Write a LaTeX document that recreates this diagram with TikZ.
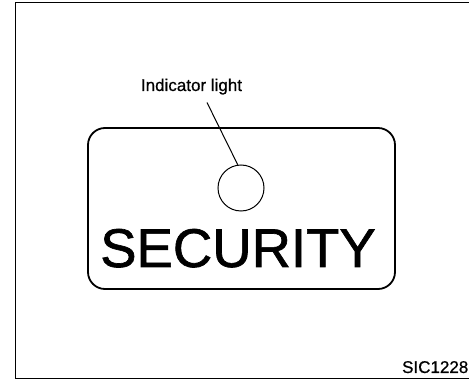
\documentclass[tikz,border=0pt]{standalone}
\usepackage{fontspec}
\setmainfont{Liberation Sans}
\newfontfamily\heavyfont[FakeBold=1.2]{Liberation Sans}
\newfontfamily\labelfont[FakeBold=0.6]{Liberation Sans}
\usepackage{tikz}
\usetikzlibrary{positioning}

\begin{document}
\begin{tikzpicture}[
            x=1pt, y=-1pt,
            frameline/.style={line width=1.5pt},
            badgeline/.style={line width=1.8pt, rounded corners=17pt},
            leader/.style={line width=1pt},
            lamp/.style={circle, draw, line width=1pt, minimum size=46pt, inner sep=0pt},
            caption/.style={inner sep=0pt, font=\labelfont\fontsize{17}{17}\selectfont}
        ]

            \useasboundingbox (0,0) rectangle (469,379);

            % Outer frame (open on the right)
            \draw[frameline] (470,2.5) -- (15.5,2.5) -- (15.5,378.5) -- (470,378.5);

            % Badge
            \draw[badgeline] (88,128) rectangle (395,289);
            \node[inner sep=0pt, anchor=base, font=\heavyfont\fontsize{54.5}{54.5}\selectfont] (word) at (238,267) {SECURITY};

            % Indicator light and its label
            \node[lamp] (light) at (241,188) {};
            \node[caption, anchor=base] (label) at (191.5,91) {Indicator light};
            \coordinate (tip) at (207,102.5);
            \draw[leader] (tip) -- (light.98);

            % Figure code
            \node[caption, anchor=base east] (code) at (468.5,373) {SIC1228};

        \end{tikzpicture}
\end{document}
